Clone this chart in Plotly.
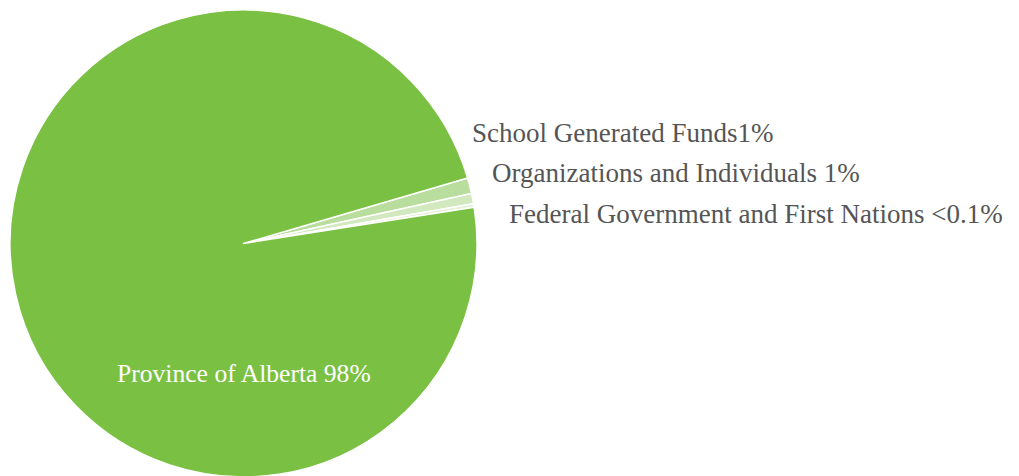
import plotly.graph_objects as go

W, H = 1019, 476
OFF = 8  # page body margin offset

categories = ["School Generated Funds", "Organizations and Individuals",
              "Federal Government and First Nations", "Province of Alberta"]
values = [1.1, 0.7, 0.25, 97.95]
labels = ["School Generated Funds1%", "Organizations and Individuals 1%",
          "Federal Government and First Nations <0.1%", "Province of Alberta 98%"]
colors = ["#b9dd9c", "#d2e9bf", "#e4f1d6", "#7ac143"]

fig = go.Figure()
fig.add_trace(go.Pie(
    labels=categories, values=values, sort=False, direction="clockwise",
    rotation=73.7, textinfo="none", hoverinfo="label+percent",
    marker=dict(colors=colors, line=dict(color="white", width=1.5)),
    domain=dict(x=[(10 - OFF) / W, (477 - OFF) / W],
                y=[1 - (477 - OFF) / H, 1 - (10 - OFF) / H]),
    showlegend=False,
))

font_out = dict(family="Liberation Serif, serif", size=27, color="#555555")
pos = [(470, 133), (490, 173), (507, 214)]
for (px, py), t in zip(pos, labels[:3]):
    fig.add_annotation(x=(px - OFF) / W, y=1 - (py - OFF) / H, xref="paper", yref="paper",
                       text=t, showarrow=False, xanchor="left", yanchor="middle",
                       font=font_out)
fig.add_annotation(x=(244 - OFF) / W, y=1 - (373 - OFF) / H, xref="paper", yref="paper",
                   text=labels[3], showarrow=False, xanchor="center", yanchor="middle",
                   font=dict(family="Liberation Serif, serif", size=25.6, color="white"))

fig.update_layout(width=W, height=H, margin=dict(l=0, r=0, t=0, b=0),
                  paper_bgcolor="white", plot_bgcolor="white")
fig.write_html("out.html")
